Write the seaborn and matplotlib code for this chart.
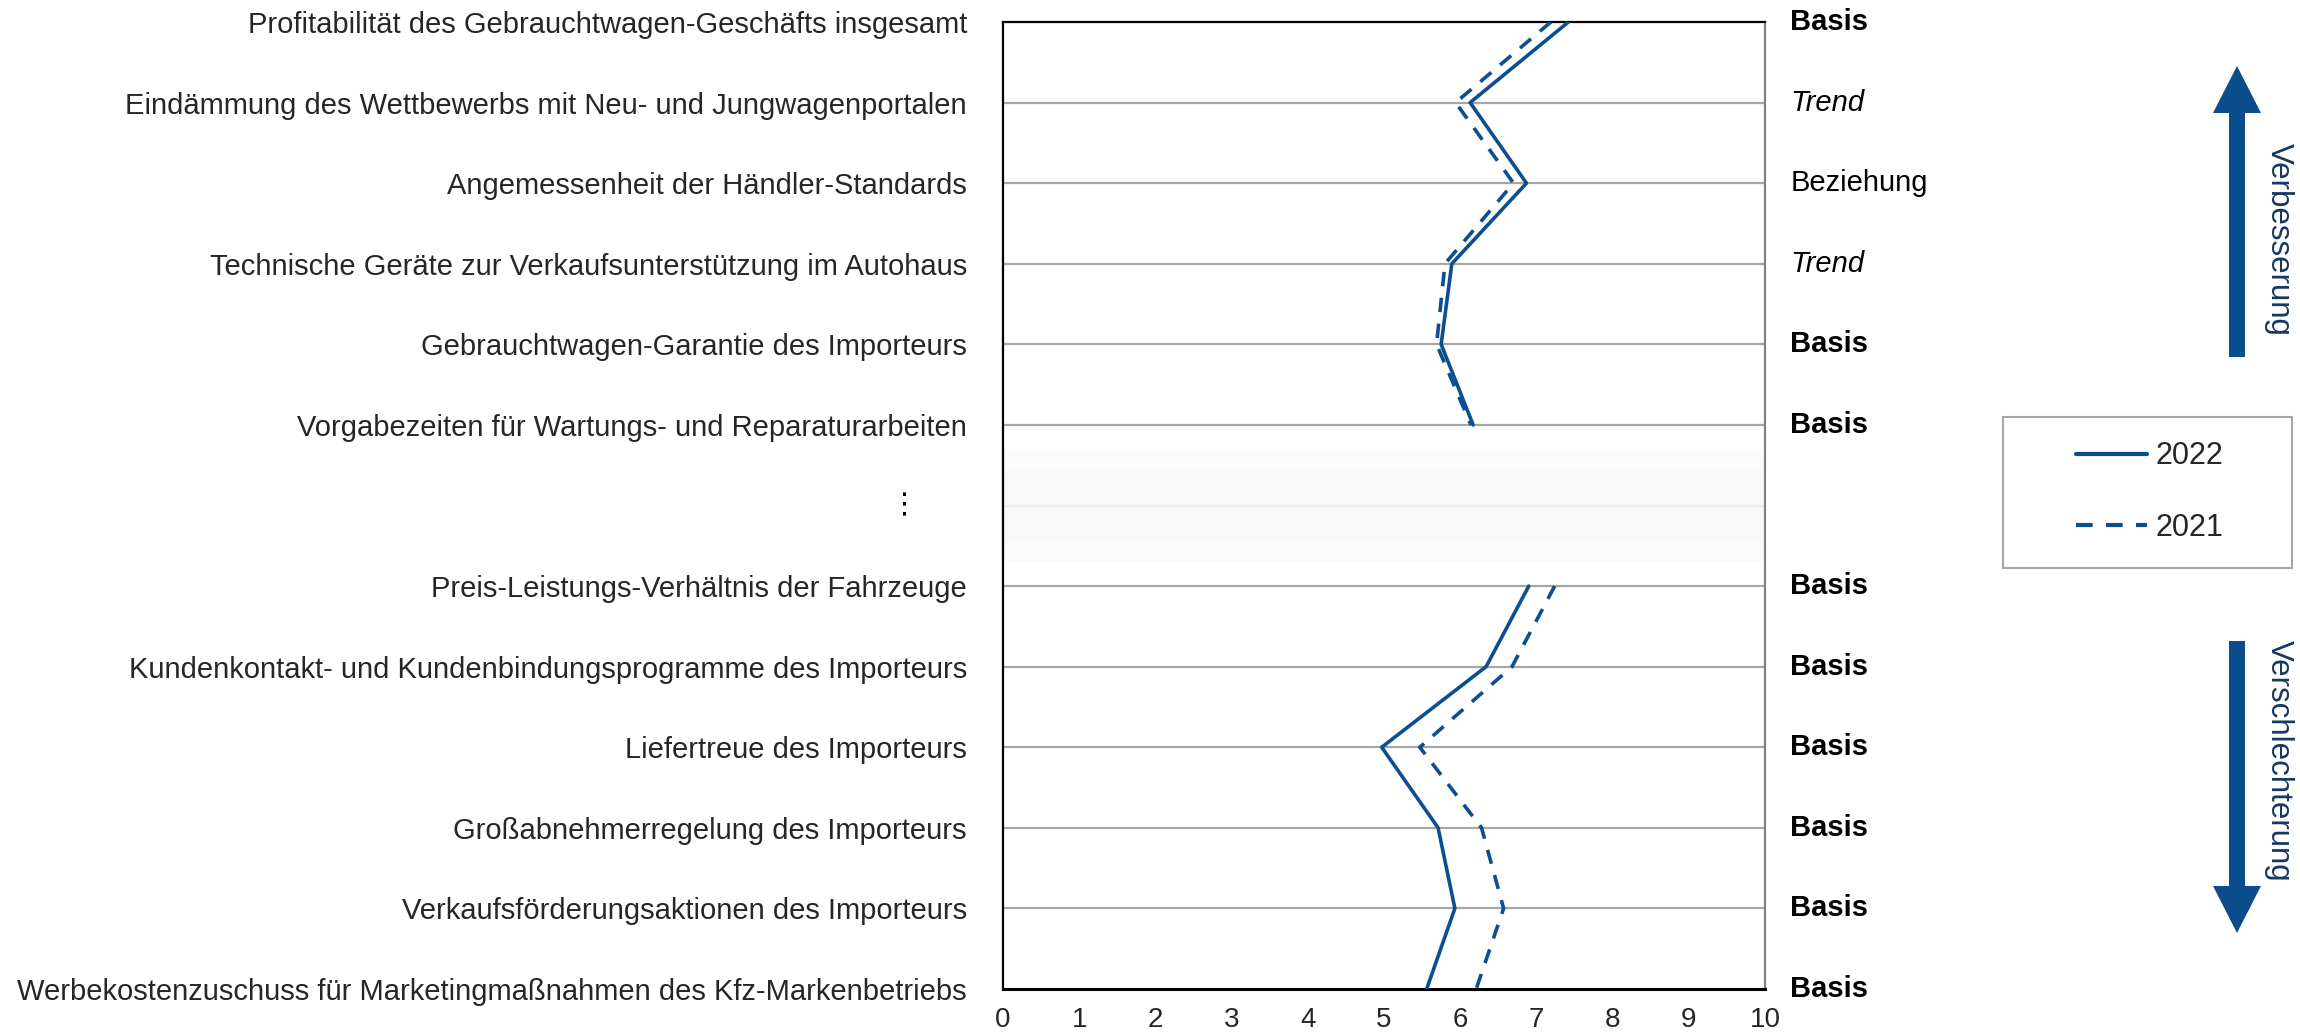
import matplotlib
matplotlib.use("Agg")
import numpy as np
import pandas as pd
import seaborn as sns
import matplotlib.pyplot as plt
from matplotlib.patches import FancyArrow, Rectangle
from matplotlib.transforms import blended_transform_factory, IdentityTransform

# ---------------- data ----------------
top_items = [
    "Profitabilität des Gebrauchtwagen-Geschäfts insgesamt",
    "Eindämmung des Wettbewerbs mit Neu- und Jungwagenportalen",
    "Angemessenheit der Händler-Standards",
    "Technische Geräte zur Verkaufsunterstützung im Autohaus",
    "Gebrauchtwagen-Garantie des Importeurs",
    "Vorgabezeiten für Wartungs- und Reparaturarbeiten",
]
bottom_items = [
    "Preis-Leistungs-Verhältnis der Fahrzeuge",
    "Kundenkontakt- und Kundenbindungsprogramme des Importeurs",
    "Liefertreue des Importeurs",
    "Großabnehmerregelung des Importeurs",
    "Verkaufsförderungsaktionen des Importeurs",
    "Werbekostenzuschuss für Marketingmaßnahmen des Kfz-Markenbetriebs",
]
gap_label = "⋮"

values_2022_top = [7.42, 6.13, 6.87, 5.89, 5.75, 6.17]
values_2021_top = [7.19, 5.94, 6.70, 5.80, 5.69, 6.14]
values_2022_bottom = [6.90, 6.34, 4.97, 5.71, 5.93, 5.56]
values_2021_bottom = [7.24, 6.68, 5.47, 6.28, 6.57, 6.21]

dimension_top = ["Basis", "Trend", "Beziehung", "Trend", "Basis", "Basis"]
dimension_bottom = ["Basis", "Basis", "Basis", "Basis", "Basis", "Basis"]

years = ["2022", "2021"]
x_ticks = [0, 1, 2, 3, 4, 5, 6, 7, 8, 9, 10]
arrow_labels = ["Verbesserung", "Verschlechterung"]

# ---------------- build long table ----------------
pos_top = list(range(len(top_items)))
pos_bottom = list(range(len(top_items) + 1, len(top_items) + 1 + len(bottom_items)))
rows = []
for year, vt, vb in [("2022", values_2022_top, values_2022_bottom),
                     ("2021", values_2021_top, values_2021_bottom)]:
    for p, v in zip(pos_top, vt):
        rows.append({"year": year, "segment": "top", "pos": p, "value": v})
    for p, v in zip(pos_bottom, vb):
        rows.append({"year": year, "segment": "bottom", "pos": p, "value": v})
df = pd.DataFrame(rows)

# ---------------- style ----------------
sns.set_style("white")
plt.rcParams["font.family"] = ["Liberation Sans", "DejaVu Sans"]

BLUE = "#0B4F92"
ARROW = "#0B4C8C"
W, H = 2300, 1032
fig = plt.figure(figsize=(W / 100, H / 100), dpi=100)
ax = fig.add_axes([1003 / W, (H - 989) / H, (1765 - 1003) / W, (989 - 22) / H])

# gap shading (very faint)
ax.axhspan(5.3, 6.7, color="#fbfbfb", lw=0, zorder=0)
ax.axhspan(5.55, 6.45, color="#f8f8f8", lw=0, zorder=0)

sns.lineplot(
    data=df, x="value", y="pos", hue="year", style="year",
    units="segment", estimator=None, sort=False, orient="y",
    hue_order=years, style_order=years,
    palette={"2022": BLUE, "2021": BLUE},
    dashes={"2022": "", "2021": (4, 3.2)},
    linewidth=2.6, ax=ax, zorder=3,
)

n_rows = len(top_items) + 1 + len(bottom_items)
ax.set_ylim(n_rows - 1, 0)
ax.set_xlim(0, 10)

# gridlines
for p in range(n_rows):
    col = "#ececec" if p == len(top_items) else "#a6a6a6"
    if p in (0, n_rows - 1):
        continue
    ax.axhline(p, color=col, lw=1.6, zorder=1)

ax.set_yticks(pos_top + pos_bottom)
ax.set_yticklabels(top_items + bottom_items, fontsize=21)
ax.tick_params(axis="y", length=0, pad=26)
ax.set_xticks(x_ticks)
ax.set_xticklabels([str(t) for t in x_ticks], fontsize=20)
ax.tick_params(axis="x", length=7, width=1.2, color="#808080", pad=6, direction="out")
ax.set_xlabel("")
ax.set_ylabel("")

for side, c, lw in [("left", "#000000", 1.6), ("bottom", "#000000", 2.2),
                    ("top", "#000000", 1.6), ("right", "#808080", 1.6)]:
    ax.spines[side].set_visible(True)
    ax.spines[side].set_color(c)
    ax.spines[side].set_linewidth(lw)

# gap marker
trans = blended_transform_factory(ax.transAxes, ax.transData)
ax.text((905 - 1003) / 762, len(top_items), gap_label, transform=trans,
        ha="center", va="center", fontsize=21, color="black")

# right-hand dimension labels
style_map = {"Basis": dict(fontweight="bold"),
             "Trend": dict(fontstyle="italic"),
             "Beziehung": dict()}
for p, d in zip(pos_top + pos_bottom, dimension_top + dimension_bottom):
    ax.text(1.033, p, d, transform=trans, ha="left", va="center",
            fontsize=21, color="black", **style_map[d])

# legend
leg_handles, leg_labels = ax.get_legend_handles_labels()
pairs = [(h, l) for h, l in zip(leg_handles, leg_labels) if l in years]
ax.get_legend().remove()
fig.add_artist(Rectangle((2003, H - 568), 289, 151, transform=IdentityTransform(),
                         facecolor="white", edgecolor="#a6a6a6", lw=1.5))
for h, _ in pairs:
    h.set_linewidth(3)
fig.legend([h for h, _ in pairs], [l for _, l in pairs], loc="center",
           bbox_to_anchor=(2150 / W, (H - 492) / H), frameon=False, fontsize=22,
           handlelength=2.3, labelspacing=1.35, handletextpad=0.3)

# arrows
fig.add_artist(FancyArrow(2237, H - 357, 0, 291, width=16, head_width=48, head_length=47,
                          length_includes_head=True, transform=IdentityTransform(),
                          color=ARROW, lw=0))
fig.add_artist(FancyArrow(2237, H - 641, 0, -292, width=16, head_width=48, head_length=47,
                          length_includes_head=True, transform=IdentityTransform(),
                          color=ARROW, lw=0))
fig.text(2279 / W, (H - 143) / H, arrow_labels[0], rotation=-90, ha="center", va="top",
         fontsize=22.5, color="#17375E")
fig.text(2279 / W, (H - 640) / H, arrow_labels[1], rotation=-90, ha="center", va="top",
         fontsize=22.5, color="#17375E")

fig.savefig("out.png", dpi=100)
